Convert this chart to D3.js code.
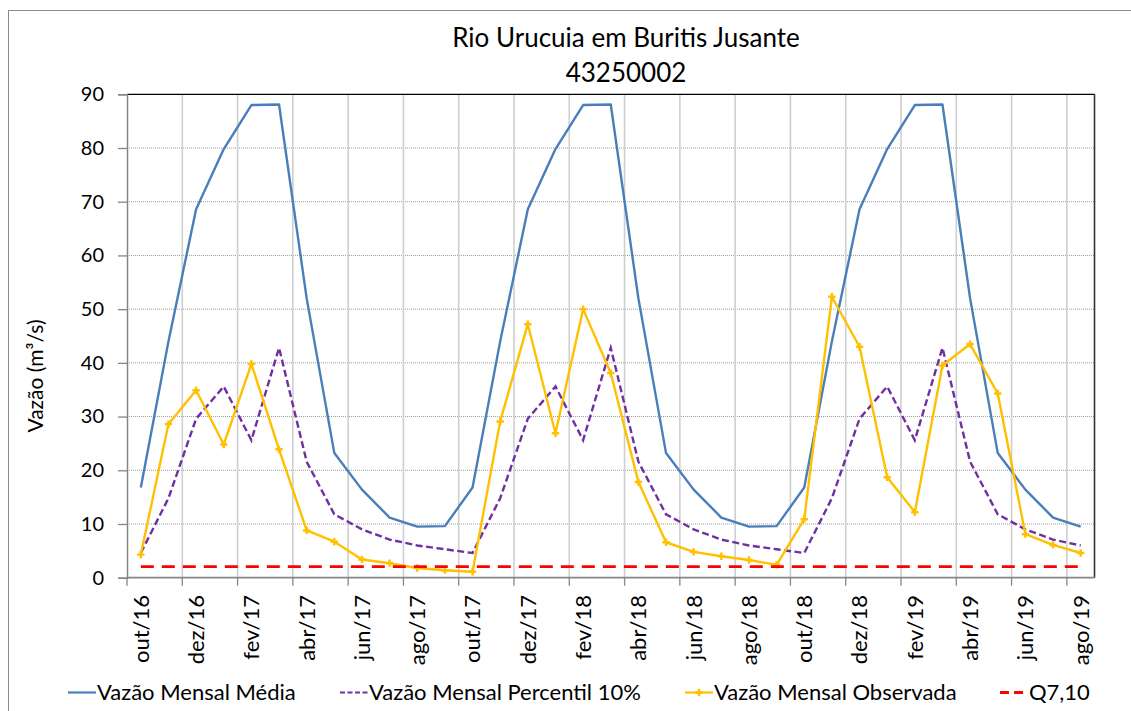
<!DOCTYPE html>
<html><head><meta charset="utf-8">
<script src="https://cdn.jsdelivr.net/npm/d3@7"></script>
<style>
body{margin:0;background:#fff}
svg{display:block}
text{font-family:Lato,"Open Sans",sans-serif;fill:#000}
</style>
</head><body>
<svg id="chart" width="1131" height="711"></svg>
<script>
// ---------- DATA ----------
const months = [
  "out/16","nov/16","dez/16",
  "jan/17","fev/17","mar/17","abr/17","mai/17","jun/17","jul/17","ago/17","set/17","out/17","nov/17","dez/17",
  "jan/18","fev/18","mar/18","abr/18","mai/18","jun/18","jul/18","ago/18","set/18","out/18","nov/18","dez/18",
  "jan/19","fev/19","mar/19","abr/19","mai/19","jun/19","jul/19","ago/19"
];
const mediaMensal = [
  16.8,44.0,68.6,79.8,88.0,88.1,52.0,23.2,16.4,11.2,9.5,9.6,
  16.8,44.0,68.6,79.8,88.0,88.1,52.0,23.2,16.4,11.2,9.5,9.6,
  16.8,44.0,68.6,79.8,88.0,88.1,52.0,23.2,16.4,11.2,9.5
];
const percentil10 = [
  4.6,14.8,29.6,35.6,25.6,42.8,21.6,11.8,9.0,7.1,6.0,5.3,
  4.6,14.8,29.6,35.6,25.6,42.8,21.6,11.8,9.0,7.1,6.0,5.3,
  4.6,14.8,29.6,35.6,25.6,42.8,21.6,11.8,9.0,7.1,6.0
];
const observada = [
  4.3,28.6,34.9,24.8,39.8,23.9,8.8,6.7,3.4,2.7,1.8,1.4,
  1.1,29.1,47.2,26.9,50.0,38.1,17.8,6.6,4.8,4.0,3.3,2.4,
  10.9,52.3,43.0,18.7,12.2,39.5,43.5,34.3,8.1,6.1,4.6
];
const q710 = 2.05;
const yTicks = [0,10,20,30,40,50,60,70,80,90];
const titleLines = ["Rio Urucuia em Buritis Jusante","43250002"];
const yLabel = "Vazão (m³/s)";
const legendNames = ["Vazão Mensal Média","Vazão Mensal Percentil 10%","Vazão Mensal Observada","Q7,10"];

// ---------- LAYOUT ----------
const L = 127, R = 1094.5, T = 94.3, B = 577.7;
const svg = d3.select("#chart");
const x = d3.scaleBand().domain(months).range([L, R]);
const cx = m => x(m) + x.bandwidth()/2;
const y = d3.scaleLinear().domain([0,90]).range([B, T]);

const colBlue = "#4A7EBB", colPurple = "#7030A0", colYellow = "#FFC000", colRed = "#FF0000";

// outer chart border
svg.append("rect").attr("x",8.5).attr("y",10.5).attr("width",1300).attr("height",900)
  .attr("fill","none").attr("stroke","#8c8c8c").attr("stroke-width",1);

// horizontal gridlines (dotted)
svg.append("g").selectAll("line").data(yTicks.filter(v=>v>0 && v<90)).join("line")
  .attr("x1",L).attr("x2",R).attr("y1",d=>y(d)).attr("y2",d=>y(d))
  .attr("stroke","#9a9a9a").attr("stroke-width",1).attr("stroke-dasharray","1,1");

// vertical gridlines every two months
const tickMonths = months.filter((m,i)=>i%2===0);
svg.append("g").selectAll("line").data(tickMonths.slice(1)).join("line")
  .attr("x1",d=>x(d)).attr("x2",d=>x(d)).attr("y1",T).attr("y2",B)
  .attr("stroke","#cfcfcf").attr("stroke-width",1.6);

// plot frame: top and right
svg.append("line").attr("x1",L).attr("x2",R).attr("y1",T).attr("y2",T).attr("stroke","#000").attr("stroke-width",1.3);
svg.append("line").attr("x1",R).attr("x2",R).attr("y1",T).attr("y2",B).attr("stroke","#333").attr("stroke-width",1.6);

// y axis
const yAxis = d3.axisLeft(y).tickValues(yTicks).tickSize(9).tickPadding(14).tickFormat(d3.format("d"));
const gy = svg.append("g").attr("transform",`translate(${L},0)`).call(yAxis);
gy.select(".domain").attr("stroke","#868686").attr("stroke-width",1.5);
gy.selectAll(".tick line").attr("stroke","#868686").attr("stroke-width",1.3);
gy.selectAll(".tick text").style("font-size","20px").style("font-family","Lato").attr("fill","#000");

// x axis line + ticks at band edges
svg.append("line").attr("x1",L).attr("x2",R).attr("y1",B).attr("y2",B).attr("stroke","#868686").attr("stroke-width",1.8);
svg.append("g").selectAll("line").data(tickMonths).join("line")
  .attr("x1",d=>x(d)).attr("x2",d=>x(d)).attr("y1",B).attr("y2",B+8)
  .attr("stroke","#868686").attr("stroke-width",1.3);
// x labels (rotated)
svg.append("g").selectAll("text").data(tickMonths).join("text")
  .attr("transform",d=>`translate(${cx(d)},595) rotate(-90)`)
  .attr("text-anchor","end").attr("dy","0.36em")
  .style("font-size","22px").text(d=>d);

// series
const line = d3.line().x((d,i)=>cx(months[i])).y(d=>y(d));
svg.append("path").datum(mediaMensal).attr("d",line)
  .attr("fill","none").attr("stroke",colBlue).attr("stroke-width",2.4).attr("stroke-linejoin","round");
svg.append("path").datum(percentil10).attr("d",line)
  .attr("fill","none").attr("stroke",colPurple).attr("stroke-width",2.4).attr("stroke-dasharray","7,3.5");
svg.append("path").datum(observada).attr("d",line)
  .attr("fill","none").attr("stroke",colYellow).attr("stroke-width",2.4).attr("stroke-linejoin","round");
const marker = d3.symbol().type(d3.symbolCross).size(30);
svg.append("g").selectAll("path").data(observada).join("path")
  .attr("transform",(d,i)=>`translate(${cx(months[i])},${y(d)})`)
  .attr("d",marker).attr("fill",colYellow);
// Q7,10
svg.append("line").attr("x1",cx(months[0])).attr("x2",cx(months[months.length-1]))
  .attr("y1",y(q710)).attr("y2",y(q710))
  .attr("stroke",colRed).attr("stroke-width",2.8).attr("stroke-dasharray","13,8");

// title
svg.append("g").selectAll("text").data(titleLines).join("text")
  .attr("x",626).attr("y",(d,i)=>47+i*35).attr("text-anchor","middle")
  .style("font-size","26px").text(d=>d);

// y label
svg.append("text").attr("transform","translate(43,376) rotate(-90)")
  .attr("text-anchor","middle").style("font-size","21px").text(yLabel);

// legend
const legX = [68, 340, 685, 1000];
const legY = 692.5;
const legStyles = [
  {c:colBlue, dash:null, mk:false},
  {c:colPurple, dash:"5,2.5", mk:false},
  {c:colYellow, dash:null, mk:true},
  {c:colRed, dash:"9,5", mk:false}
];
const lg = svg.append("g").selectAll("g").data(legendNames).join("g")
  .attr("transform",(d,i)=>`translate(${legX[i]},${legY})`);
lg.append("line").attr("x1",0).attr("x2",28).attr("y1",0).attr("y2",0)
  .attr("stroke",(d,i)=>legStyles[i].c).attr("stroke-width",(d,i)=>i===3?2.8:2.2)
  .attr("stroke-dasharray",(d,i)=>legStyles[i].dash);
lg.filter((d,i)=>legStyles[i].mk).append("path").attr("transform","translate(14,0)")
  .attr("d",marker).attr("fill",colYellow);
lg.append("text").attr("x",29).attr("dy","0.35em").style("font-size","22px").text(d=>d);
</script>
</body></html>
